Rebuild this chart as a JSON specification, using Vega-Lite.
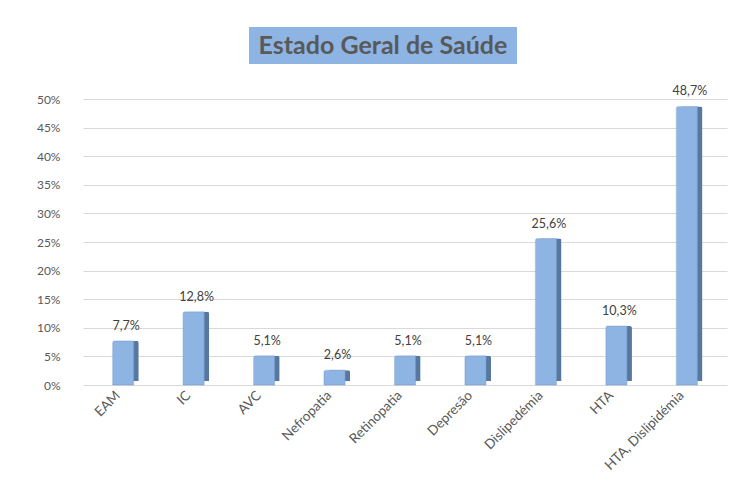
{
  "$schema": "https://vega.github.io/schema/vega-lite/v6.json",
  "padding": {"left": 36, "top": 27, "right": 5, "bottom": 5},
  "background": "white",
  "bounds": "flush",
  "spacing": 72,
  "config": {
    "view": {"stroke": null},
    "font": "Lato",
    "locale": {"number": {"decimal": ",", "thousands": ".", "grouping": [3], "currency": ["", " €"]}}
  },
  "vconcat": [
    {
      "bounds": "flush",
      "spacing": 0,
      "hconcat": [
        {"width": 166, "height": 37, "data": {"values": []}, "mark": "point"},
        {
          "width": 268,
          "height": 37,
          "view": {"fill": "#8DB4E2", "stroke": null},
          "data": {"values": [{"t": "Estado Geral de Saúde"}]},
          "mark": {"type": "text", "font": "Lato", "fontWeight": "bold", "fontSize": 25, "color": "#595959"},
          "encoding": {"text": {"field": "t"}}
        }
      ]
    },
    {
      "width": 644,
      "height": 286,
      "data": {
        "values": [
          {"cat": "EAM", "v": 0.077},
          {"cat": "IC", "v": 0.128},
          {"cat": "AVC", "v": 0.051},
          {"cat": "Nefropatia", "v": 0.026},
          {"cat": "Retinopatia", "v": 0.051},
          {"cat": "Depresão", "v": 0.051},
          {"cat": "Dislipedémia", "v": 0.256},
          {"cat": "HTA", "v": 0.103},
          {"cat": "HTA, Dislipidémia", "v": 0.487}
        ]
      },
      "encoding": {
        "x": {
          "field": "cat",
          "type": "nominal",
          "sort": null,
          "scale": {"paddingInner": 0.7, "paddingOuter": 0.42},
          "axis": {
            "title": null,
            "labelAngle": -45,
            "labelAlign": "right",
            "labelBaseline": "middle",
            "labelPadding": 8,
            "labelOffset": -5,
            "labelFontSize": 13.5,
            "labelColor": "#595959",
            "labelOverlap": false,
            "domain": false,
            "ticks": false
          }
        },
        "y": {
          "field": "v",
          "type": "quantitative",
          "scale": {"domain": [0, 0.5], "nice": false},
          "axis": {
            "title": null,
            "format": ".0%",
            "values": [0, 0.05, 0.1, 0.15, 0.2, 0.25, 0.3, 0.35, 0.4, 0.45, 0.5],
            "labelOverlap": false,
            "labelFontSize": 12,
            "labelColor": "#595959",
            "labelPadding": 23,
            "domain": false,
            "ticks": false,
            "gridColor": "#D9D9D9",
            "gridWidth": 1
          }
        }
      },
      "layer": [
        {"mark": {"type": "bar", "color": "#56779F", "xOffset": 5, "yOffset": -4, "cornerRadiusTopRight": 2}},
        {"mark": {"type": "bar", "color": "#8DB4E2", "stroke": "#7EA3D0", "strokeWidth": 0.5, "cornerRadiusTopLeft": 2}},
        {
          "mark": {"type": "text", "baseline": "bottom", "dy": -8, "dx": 3, "fontSize": 12.5, "color": "#404040"},
          "encoding": {"text": {"field": "v", "type": "quantitative", "format": ".1%"}}
        }
      ]
    }
  ]
}
